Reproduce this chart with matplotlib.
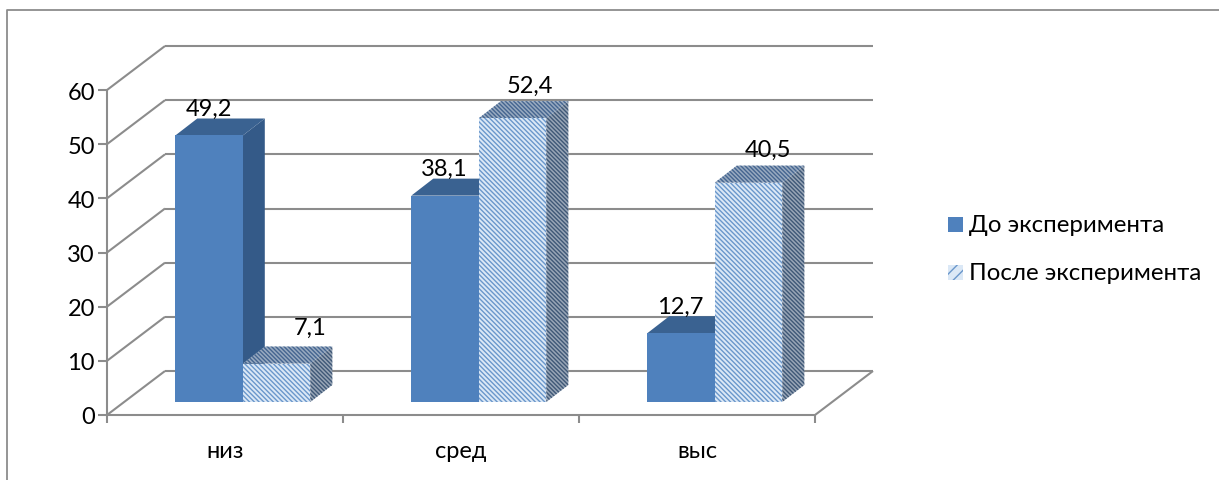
import matplotlib
matplotlib.use("Agg")
import matplotlib.pyplot as plt
from matplotlib.patches import Polygon, Rectangle

plt.rcParams['font.family'] = ['Lato', 'Noto Sans', 'DejaVu Sans']
plt.rcParams['hatch.linewidth'] = 1.0

categories = ["низ", "сред", "выс"]
before_label = "До эксперимента"
after_label = "После эксперимента"
before_values = [49.2, 38.1, 12.7]
after_values = [7.1, 52.4, 40.5]
value_labels_before = ["49,2", "38,1", "12,7"]
value_labels_after = ["7,1", "52,4", "40,5"]
y_ticks = [0, 10, 20, 30, 40, 50, 60]

W, H = 1219, 480
FS = 17
fig = plt.figure(figsize=(W / 100, H / 100), dpi=100, facecolor="white")

# Axes box covers the front plane of the 3D plot, in figure pixels
left, right, bottom, top = 107, 815, 415, 90
ax = fig.add_axes([left / W, 1 - bottom / H, (right - left) / W, (bottom - top) / H])
ax.set_xlim(0, 3)
ax.set_ylim(0, 60)
ax.axis("off")

ux = (right - left) / 3      # px per category
uy = (bottom - top) / 60     # px per value unit
wall_dx, wall_dy = 58 / ux, 44 / uy
bar_dx, bar_dy = 22 / ux, 17 / uy
base_dx, base_dy = 17.8 / ux, 13 / uy
bar_w = 67.5 / ux

GRID = "#8c8c8c"
FRONT = "#4f81bd"
SIDE = "#345a88"
TOP = "#3a6291"

def line(xs, ys, lw=1.5, z=1):
    ax.plot(xs, ys, color=GRID, lw=lw, clip_on=False, zorder=z, solid_capstyle="butt")

# Back wall gridlines, side wall diagonals and floor
for v in y_ticks:
    line([0, wall_dx], [v, v + wall_dy])
    line([wall_dx, 3 + wall_dx], [v + wall_dy, v + wall_dy])
    line([-9 / ux, 0], [v, v])
    ax.text(-12 / ux, v - 3 / uy, str(v), ha="right", va="center", fontsize=FS, color="black", clip_on=False)
line([0, 0], [0, 60])
line([0, 3], [0, 0])
line([3, 3 + wall_dx], [0, wall_dy])
for i in range(4):
    line([i, i], [0, -8 / uy])
for i, name in enumerate(categories):
    ax.text(i + 0.5, -36 / uy, name, ha="center", va="center", fontsize=FS, color="black")


def box(x0, h, solid, z):
    y0 = base_dy
    y1 = base_dy + h
    x1 = x0 + bar_w
    side = [(x1, y0), (x1 + bar_dx, y0 + bar_dy), (x1 + bar_dx, y1 + bar_dy), (x1, y1)]
    roof = [(x0, y1), (x0 + bar_dx, y1 + bar_dy), (x1 + bar_dx, y1 + bar_dy), (x1, y1)]
    if solid:
        ax.bar(x0, h, bar_w, bottom=y0, align="edge", color=FRONT, zorder=z + 0.2)
        ax.add_patch(Polygon(side, closed=True, fc=SIDE, ec="none", zorder=z, clip_on=False))
        ax.add_patch(Polygon(roof, closed=True, fc=TOP, ec="none", zorder=z + 0.1, clip_on=False))
    else:
        ax.bar(x0, h, bar_w, bottom=y0, align="edge", color="#dbe8f6",
               edgecolor="#6a97cb", hatch="\\\\\\\\\\\\\\", lw=0, zorder=z + 0.2)
        ax.add_patch(Polygon(side, closed=True, fc="#98a5b6", ec="#3f5877", hatch="\\\\\\\\\\\\\\\\",
                             lw=0, zorder=z, clip_on=False))
        ax.add_patch(Polygon(roof, closed=True, fc="#98aac0", ec="#456590", hatch="\\\\\\\\\\\\\\\\",
                             lw=0, zorder=z + 0.1, clip_on=False))


# Offsets of the second series' labels from the bar, in pixels
after_nudge_x = [23, 6, 8]
after_nudge_y = [18, 15, 15]

for i in range(3):
    x_mid = i + 0.5 + base_dx
    box(x_mid - bar_w, before_values[i], True, 3 + i)
    box(x_mid, after_values[i], False, 3.5 + i)
    ax.text(x_mid - bar_w / 2 + bar_dx / 2 - 11.5 / ux, before_values[i] + base_dy + bar_dy + 9 / uy,
            value_labels_before[i], ha="center", va="center", fontsize=FS, zorder=20, clip_on=False)
    ax.text(x_mid + bar_w / 2 + bar_dx / 2 + after_nudge_x[i] / ux, after_values[i] + base_dy + bar_dy + after_nudge_y[i] / uy,
            value_labels_after[i], ha="center", va="center", fontsize=FS, zorder=20, clip_on=False)

# Overlay in figure pixels for the outer frame and legend
ov = fig.add_axes([0, 0, 1, 1], zorder=10)
ov.set_xlim(0, W)
ov.set_ylim(H, 0)
ov.axis("off")
ov.patch.set_alpha(0)
ov.plot([7, 7, W], [H, 10, 10], color=GRID, lw=1.3)
ov.add_patch(Rectangle((948, 217), 15, 15, fc=FRONT, ec="none"))
ov.add_patch(Rectangle((948, 265), 15, 15, fc="#dbe8f6", ec="#6a97cb", hatch="///", lw=0))
ov.text(969, 226, before_label, va="center", ha="left", fontsize=17.3)
ov.text(969, 273, after_label, va="center", ha="left", fontsize=17.3)

fig.savefig("out.png", dpi=100)
